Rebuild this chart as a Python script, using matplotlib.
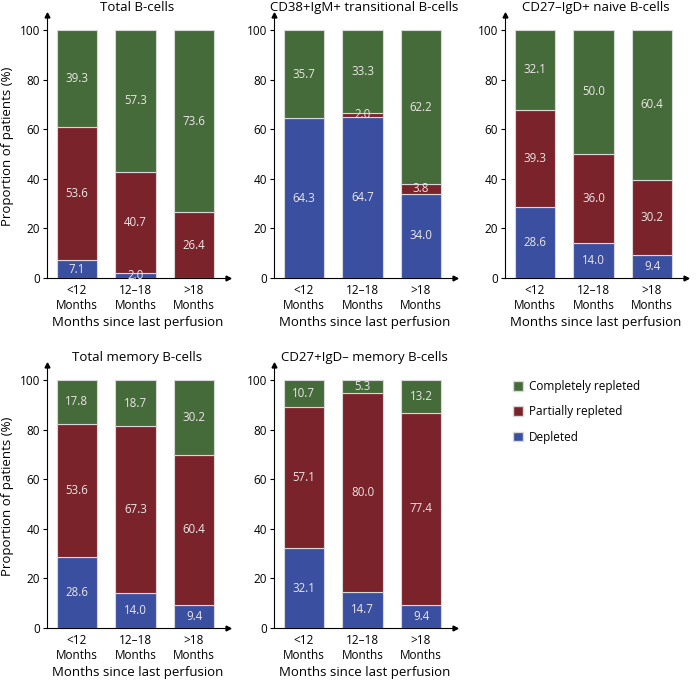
import matplotlib.pyplot as plt
from matplotlib.patches import Patch

plt.rcParams['font.family'] = ['Open Sans', 'DejaVu Sans']

categories = ['<12\nMonths', '12–18\nMonths', '>18\nMonths']
titles = ['Total B-cells', 'CD38+IgM+ transitional B-cells', 'CD27–IgD+ naive B-cells',
          'Total memory B-cells', 'CD27+IgD– memory B-cells']

depleted = [
    [7.1, 2.0, 0.0],
    [64.3, 64.7, 34.0],
    [28.6, 14.0, 9.4],
    [28.6, 14.0, 9.4],
    [32.1, 14.7, 9.4],
]
partial = [
    [53.6, 40.7, 26.4],
    [0.0, 2.0, 3.8],
    [39.3, 36.0, 30.2],
    [53.6, 67.3, 60.4],
    [57.1, 80.0, 77.4],
]
complete = [
    [39.3, 57.3, 73.6],
    [35.7, 33.3, 62.2],
    [32.1, 50.0, 60.4],
    [17.8, 18.7, 30.2],
    [10.7, 5.3, 13.2],
]

c_dep = '#3a4fa0'
c_par = '#7b232b'
c_com = '#466b3a'

fig = plt.figure(figsize=(6.99, 6.82), dpi=100)
W, H = 699, 682
lefts = [47, 274, 505, 47, 274]
zeros = [278, 278, 278, 628, 628]
ax_w = 181
ax_h = 263

for i in range(5):
    ax = fig.add_axes([lefts[i] / W, (H - zeros[i]) / H, ax_w / W, ax_h / H])
    x = range(len(categories))
    bottom = [0, 0, 0]
    for vals, col in [(depleted[i], c_dep), (partial[i], c_par), (complete[i], c_com)]:
        ax.bar(x, vals, width=0.69, bottom=bottom, color=col, edgecolor='#d8d8d8', linewidth=0.8)
        for xi, v, b in zip(x, vals, bottom):
            if v > 0:
                ax.text(xi, b + v / 2, f'{v:.1f}', ha='center', va='center',
                        color='#ebe6e6', fontsize=8.3)
        bottom = [b + v for b, v in zip(bottom, vals)]
    ax.set_xlim(-0.51, 2.58)
    ax.set_ylim(0, 106)
    ax.set_yticks([0, 20, 40, 60, 80, 100])
    ax.set_xticks(list(x))
    ax.set_xticklabels(categories, fontsize=8.5, linespacing=1.25)
    ax.tick_params(axis='x', length=0, pad=4)
    ax.tick_params(axis='y', labelsize=8.5, length=3, width=0.8, pad=2)
    for s in ['top', 'right']:
        ax.spines[s].set_visible(False)
    ax.plot(1, 0, '>', color='black', markersize=3.5, transform=ax.transAxes, clip_on=False)
    ax.plot(0, 1, '^', color='black', markersize=3.5, transform=ax.transAxes, clip_on=False)
    ax.set_title(titles[i], fontsize=9.5, pad=3)
    ax.set_xlabel('Months since last perfusion', fontsize=9.5, labelpad=3)
    if i in (0, 3):
        ax.set_ylabel('Proportion of patients (%)', fontsize=9.5, labelpad=4)

handles = [Patch(facecolor=c_com, edgecolor='#d8d8d8'),
           Patch(facecolor=c_par, edgecolor='#d8d8d8'),
           Patch(facecolor=c_dep, edgecolor='#d8d8d8')]
fig.legend(handles, ['Completely repleted', 'Partially repleted', 'Depleted'],
           loc='upper left', bbox_to_anchor=(508 / W, 1 - 375 / H), frameon=False,
           fontsize=8.5, handlelength=0.9, handleheight=0.9, handletextpad=0.5,
           labelspacing=1.05, borderaxespad=0)

fig.savefig('out.png', dpi=100)
